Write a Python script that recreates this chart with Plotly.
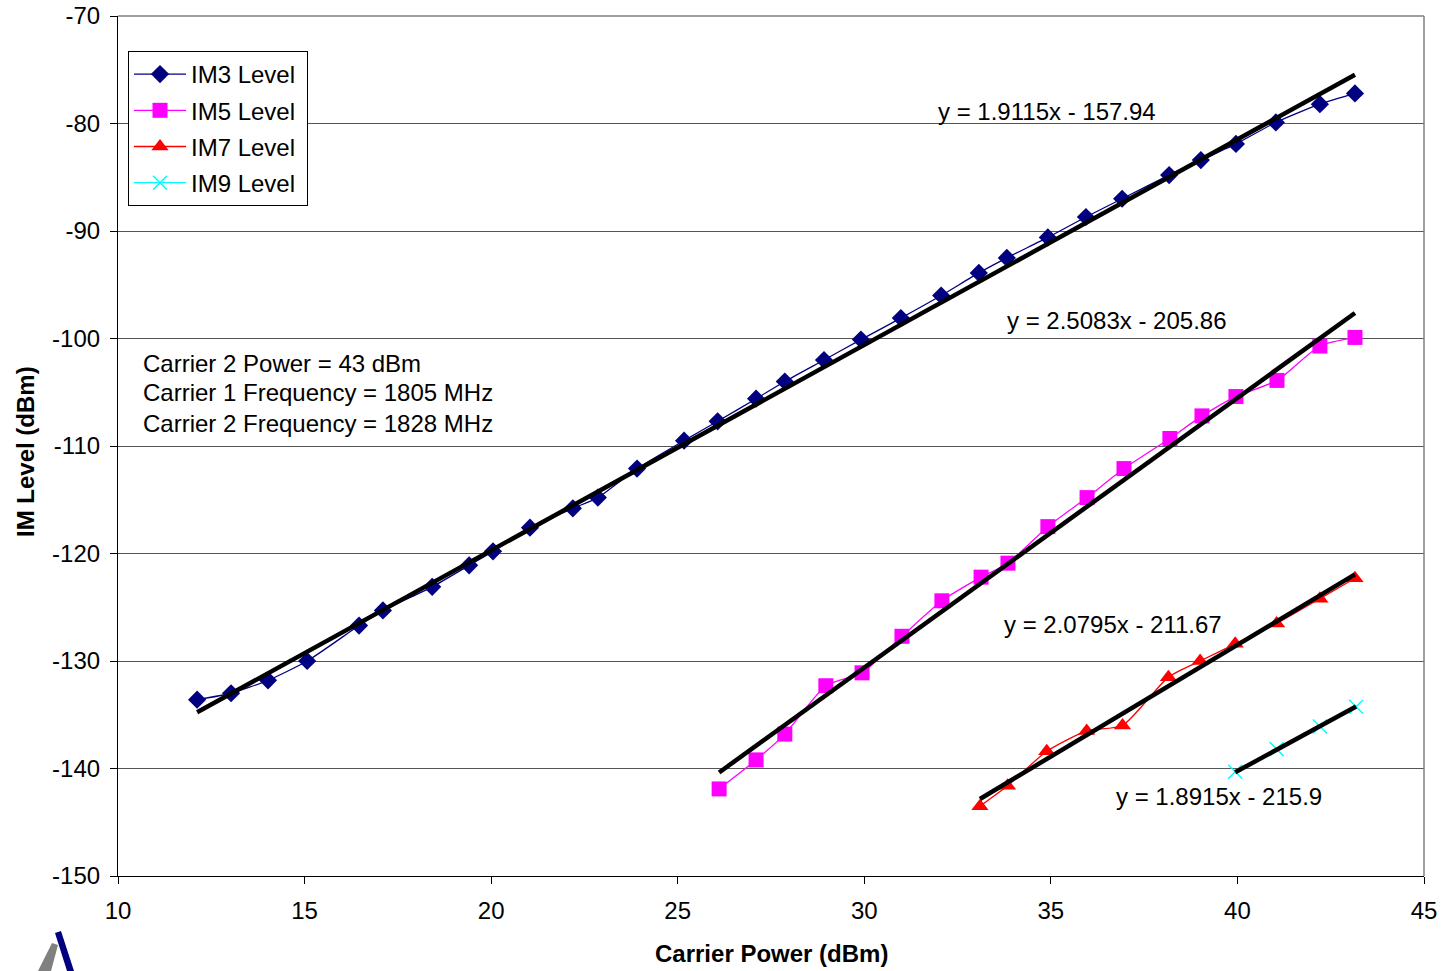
import plotly.graph_objects as go

# ---- data ----
im3_x = [12.12, 13.03, 14.02, 15.07, 16.46, 17.10, 18.42, 19.41, 20.05, 21.04, 22.19, 22.86,
         23.91, 25.17, 26.07, 27.10, 27.87, 28.92, 29.91, 30.98, 32.06, 33.07, 33.82, 34.92,
         35.94, 36.91, 38.17, 39.02, 39.96, 41.03, 42.21, 43.15]
im3_y = [-133.6, -133.0, -131.8, -130.0, -126.7, -125.3, -123.1, -121.1, -119.8, -117.6, -115.8, -114.8,
         -112.1, -109.5, -107.7, -105.6, -104.0, -102.0, -100.1, -98.1, -96.0, -93.9, -92.5, -90.6,
         -88.7, -87.0, -84.8, -83.4, -81.9, -79.9, -78.2, -77.2]

im5_x = [26.11, 27.10, 27.87, 28.97, 29.94, 31.01, 32.08, 33.13, 33.85, 34.92, 35.97, 36.96,
         38.19, 39.05, 39.96, 41.06, 42.21, 43.15]
im5_y = [-141.9, -139.2, -136.8, -132.3, -131.1, -127.7, -124.4, -122.2, -120.9, -117.5, -114.8, -112.1,
         -109.3, -107.2, -105.4, -103.9, -100.7, -99.9]

im7_x = [33.10, 33.84, 34.89, 35.96, 36.92, 38.15, 39.00, 39.94, 41.05, 42.21, 43.15]
im7_y = [-143.5, -141.6, -138.4, -136.5, -136.0, -131.5, -130.0, -128.4, -126.5, -124.2, -122.3]

im9_x = [39.94, 41.05, 42.21, 43.18]
im9_y = [-140.3, -138.2, -136.1, -134.25]

series_names = ["IM3 Level", "IM5 Level", "IM7 Level", "IM9 Level"]
slopes = [1.9115, 2.5083, 2.0795, 1.8915]
intercepts = [-157.94, -205.86, -211.67, -215.9]
eq_labels = ["y = 1.9115x - 157.94", "y = 2.5083x - 205.86", "y = 2.0795x - 211.67", "y = 1.8915x - 215.9"]
eq_pos = [(31.92, -78.84), (33.77, -98.28), (33.69, -126.65), (36.69, -142.65)]
info_lines = ["Carrier 2 Power = 43 dBm", "Carrier 1 Frequency = 1805 MHz", "Carrier 2 Frequency = 1828 MHz"]
info_y = [-102.3, -105.0, -107.9]

x_ticks = [10, 15, 20, 25, 30, 35, 40, 45]
y_ticks = [-150, -140, -130, -120, -110, -100, -90, -80, -70]
x_title = "Carrier Power (dBm)"
y_title = "IM Level (dBm)"

FONT = "Liberation Sans, Arial, sans-serif"
FS = 24

colors = ["#000080", "#FF00FF", "#FF0000", "#00FFFF"]
symbols = ["diamond", "square", "triangle-up", "x-thin"]
msizes = [14, 15, 15, 14]

xs = [im3_x, im5_x, im7_x, im9_x]
ys = [im3_y, im5_y, im7_y, im9_y]

fig = go.Figure()

for i in range(4):
    mk = dict(symbol=symbols[i], size=msizes[i], color=colors[i])
    if symbols[i] == "x-thin":
        mk["line"] = dict(color=colors[i], width=1.5)
    fig.add_trace(go.Scatter(
        x=xs[i], y=ys[i], name=series_names[i] + "&nbsp;", mode="lines+markers", legendgroup=f"g{i}",
        line=dict(color=colors[i], width=1.3, shape="spline", smoothing=0.6),
        marker=mk))

# trend lines computed from the fitted equations over each series' x range (drawn on top)
for i in range(4):
    x0, x1 = min(xs[i]), max(xs[i])
    fig.add_trace(go.Scatter(
        x=[x0, x1], y=[slopes[i] * x0 + intercepts[i], slopes[i] * x1 + intercepts[i]],
        mode="lines", line=dict(color="black", width=4.5), showlegend=False, hoverinfo="skip"))

W, H = 1441, 971
L, R, T, B = 118, 17, 16, 95
pw, ph = W - L - R, H - T - B


def px(xp):  # page pixel -> paper fraction
    return (xp - L) / pw


def py(yp):
    return 1 - (yp - T) / ph


annotations = []
for lbl, (ax, ay) in zip(eq_labels, eq_pos):
    annotations.append(dict(x=ax, y=ay, xref="x", yref="y", text=lbl, showarrow=False,
                            xanchor="left", yanchor="middle", font=dict(size=FS, color="black", family=FONT)))
for line, ly in zip(info_lines, info_y):
    annotations.append(dict(x=10.62, y=ly, xref="x", yref="y", text=line, showarrow=False,
                            xanchor="left", yanchor="middle", font=dict(size=FS, color="black", family=FONT)))
annotations.append(dict(x=px(771), y=py(953), xref="paper", yref="paper", text=f"<b>{x_title}</b>",
                        showarrow=False, xanchor="center", yanchor="middle",
                        font=dict(size=FS, color="black", family=FONT)))
annotations.append(dict(x=px(25), y=py(452), xref="paper", yref="paper", text=f"<b>{y_title}</b>",
                        showarrow=False, xanchor="center", yanchor="middle", textangle=-90,
                        font=dict(size=FS, color="black", family=FONT)))

shapes = [
    # logo fragment bottom-left
    dict(type="path", xref="paper", yref="paper",
         path=f"M {px(38)} {py(971)} L {px(51)} {py(971)} L {px(58)} {py(945)} L {px(52)} {py(943)} Z",
         fillcolor="#808080", line=dict(width=0)),
    dict(type="path", xref="paper", yref="paper",
         path=f"M {px(55)} {py(933)} L {px(61)} {py(931)} L {px(74)} {py(971)} L {px(67)} {py(971)} Z",
         fillcolor="#000080", line=dict(width=0)),
    # plot border top/right gray
    dict(type="line", xref="paper", yref="paper", x0=0, x1=1, y0=1, y1=1, line=dict(color="#808080", width=1.5)),
    dict(type="line", xref="paper", yref="paper", x0=1, x1=1, y0=0, y1=1, line=dict(color="#808080", width=1.5)),
]

fig.update_layout(
    width=W, height=H,
    margin=dict(l=L, r=R, t=T, b=B, autoexpand=False),
    paper_bgcolor="white", plot_bgcolor="white",
    font=dict(family=FONT, size=FS, color="black"),
    showlegend=True,
    legend=dict(x=px(128), y=py(51), xanchor="left", yanchor="top",
                bgcolor="white", bordercolor="black", borderwidth=1,
                font=dict(size=FS, family=FONT, color="black"),
                itemwidth=52, tracegroupgap=2),
    xaxis=dict(range=[10, 45], tickvals=x_ticks, ticktext=[str(v) for v in x_ticks],
               ticks="outside", ticklen=7, tickcolor="black", automargin=False, ticklabelstandoff=6,
               showgrid=False, zeroline=False, showline=True, linecolor="black", linewidth=1.2,
               tickfont=dict(size=FS, family=FONT)),
    yaxis=dict(range=[-150, -70], tickvals=y_ticks, ticktext=[str(v) for v in y_ticks],
               ticks="outside", ticklen=7, tickcolor="black", automargin=False, ticklabelstandoff=5,
               showgrid=True, gridcolor="#555555", gridwidth=1.2, zeroline=False,
               showline=True, linecolor="black", linewidth=1.2,
               tickfont=dict(size=FS, family=FONT)),
    annotations=annotations,
    shapes=shapes,
)

fig.write_html("out.html", config={"displayModeBar": False},
               post_script="document.body.style.margin='0px';document.body.style.overflow='hidden';")
